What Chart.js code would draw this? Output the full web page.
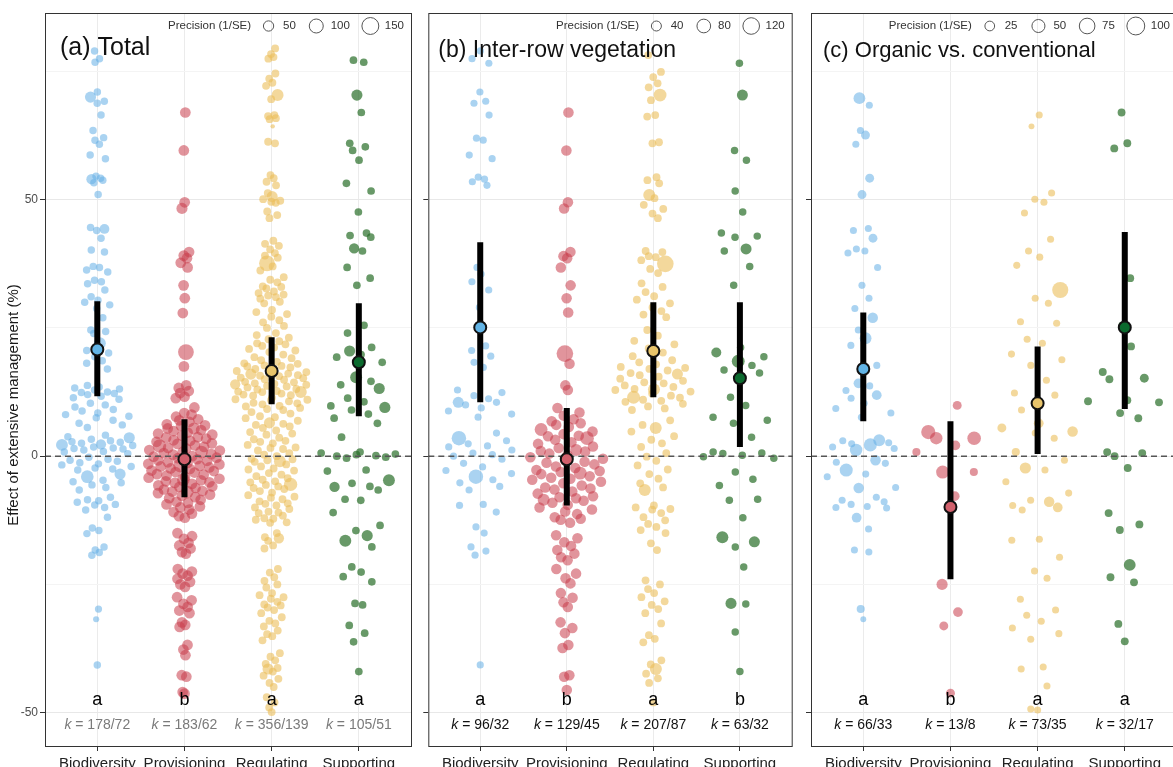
<!DOCTYPE html>
<html>
<head>
<meta charset="utf-8">
<script src="https://cdn.jsdelivr.net/npm/chart.js@4.4.0/dist/chart.umd.min.js"></script>
<style>
  html, body { margin: 0; padding: 0; background: #fff; width: 1173px; height: 767px; overflow: hidden; }
  .panel { position: absolute; top: 0; }
</style>
</head>
<body>
<canvas id="ca" class="panel" style="left:0" width="420" height="767"></canvas>
<canvas id="cb" class="panel" style="left:420px" width="381" height="767"></canvas>
<canvas id="cc" class="panel" style="left:800px" width="386" height="767"></canvas>
<script>
// --- data ----------------------------------------------------------
const CATEGORIES = ['Biodiversity', 'Provisioning', 'Regulating', 'Supporting'];
const Y_TICKS = [-50, -25, 0, 25, 50, 75];
const YMIN = -56.7, YMAX = 86.4, XMIN = -0.6, XMAX = 3.61;

// effect sizes (%); plain number = default precision of the group, [y, precision] otherwise
const A_BIO = [79, 77.5, 76.8, 71, [70,60], 69.2, 68.8, 66.5, 63.5, 62.1, 61.6, 60.8, 58.7, 58, 54.6, 54.2, [54,50], 53.8, 53.3, 51, 44.6, [44.3,45], 44, 42.5, 40.2, 39.8, 37, 36.8, 36.3, 35.9, 34.3, 34, 33.6, 32.4, 31.1, 30.4, 30, 29.5, 28.8, 27, 24.6, 24.3, 23.9, [22,70], 20.6, 20.1, 19.4, 18.6, 18.1, 17, 13.8, 13.5, 13.1, 12.9, 12.5, 12.2, 12, 11.7, 11.4, 11.1, 12.4, 13.3, 10.3, 10, 9.6, 9.1, 8.8, 8.4, 8.1, 7.8, 7.5, 7, 6.4, 6.1, 5.6, 4.1, [3.6,60], 3.3, 3, 2.8, 2.5, [2.3,50], 2.1, 1.8, 1.6, 1.4, 1.2, 0.9, 0.8, 0.5, 3.8, 2.7, [2.2,70], 1.5, -0.2, -0.6, -1, -1.3, -1.7, -2, -2.3, -2.7, [-3.5,60], -0.8, -1.5, -2.5, [-4,80], -4.7, -5.2, -5.6, -6.1, -6.6, -5, -8, -8.5, -9, -9.5, -10, -8.7, -9.4, -10.5, -11.9, -14, -14.5, -15.1, -17.7, -18.3, -18.8, -19.3, [-29.8,20], [-31.8,12], -40.7];
const A_PROV = [67, 59.6, 49.5, [48.3,60], 39.8, 39.1, 38.6, 37.7, 36.8, 33.3, 30.8, 27.9, [20.3,130], 17.5, 13.8, 13.3, 12.7, 12.3, 11.6, 11.3, 9.5, 8.4, 8.1, 7.7, 7.2, 7, 6.7, 6.2, 6, 5.9, 5.4, [5.4,70], 5.1, 4.9, 4.6, 4.4, 4.2, 4, 3.7, 3.6, 3.4, 3.1, 3, 2.8, 2.5, 2.4, [2,90], 2.1, 1.8, 1.6, 1.5, 1.2, 1.1, [0.8,80], 0.8, 0.6, 0.4, 0.3, 0, -0.1, -0.3, -0.4, -0.6, -0.8, -0.9, -1.2, -1.3, -1.5, -1.6, [-1.8,100], -1.9, -2, -2.2, -2.4, -2.5, -2.8, -2.9, -3.1, -3.2, -3.5, -3.6, -3.8, -4, -4.2, -4.4, [-4.6,80], -4.7, -4.9, -5.1, -5.2, -5.4, -5.7, -5.9, -6, -6.2, -6.5, -6.8, -6.9, [-7,80], -7.2, -7.5, -7.7, -8, -8.2, -8.5, -8.9, -9.1, -9.4, -9.8, -10, -10.4, -10.9, -11.2, -11.7, -12, -15, -15.6, -16.1, -16.9, -17.4, -18, -18.7, -19, -22, -22.5, -22.9, -23.3, -23.9, -24.5, -25, -25.5, -27.5, -28.1, -28.8, -29.4, -30.1, -30.6, -32.4, -32.9, -33.3, -36.8, -37.7, -38.8, -42.7, -43, -46, -46.3];
const A_REG = [79.5, 78.4, 77.8, 77.5, 74.6, 73.6, 72.8, 72.2, [70.4,70], 69.6, 66.5, 66.3, 65.9, 65.7, [64.3,2], 61, 61.3, 54.8, 54.2, 53.5, 52.8, 51.3, [50.6,60], 50.1, 49.8, 49.4, 49.6, 47.7, 47, 46.4, 42, 41.4, 41, 40.3, 39.6, 39.1, 38.7, [37.6,130], 37, 36.2, 34.9, 34.4, 33.9, 33.1, 32.7, 32.1, 31.8, 31.3, 31, 30.7, 30.1, 29.8, 33, 31.5, 28.5, 27.7, 27.2, 26.5, 26.1, 25.4, 25, 28.1, 24, 23.6, 23.1, 22.8, 22.4, 21.8, 21.5, 21.2, 20.6, 20.3, 19.8, 19.3, 19.1, 18.7, 22, 20.9, 18.4, 18.1, 17.7, 17.5, 17.3, 17, 16.6, 16.4, 16.1, 15.8, 15.7, 15.3, 15, 14.9, 14.5, 14.1, 13.9, 13.6, 13.4, 13.1, 12.7, 12.5, 12.2, 12, 11.8, 11.4, 11.1, 10.9, 10.7, 10.3, 10.1, 9.8, 9.4, 9.2, 9, [16,60], [14,50], [12.5,70], 17.6, 15.6, 13.7, 11.9, 10.4, 18, 16.9, 15.2, 14.2, 13, 11, 9.7, 12.6, 14.4, 16.3, 8.6, 8.3, 7.8, 7.4, 6.9, 6.3, 6.1, 5.5, 5, 4.7, 4.2, 3.6, 3.3, 2.8, 2.5, [6.5,60], 7.6, 5.8, 4.4, 3, 2.2, 1.7, 1.4, 1.1, 0.6, 0.3, 0, -0.5, -0.8, -1.1, -1.6, -2, -2.4, -2.8, -3.3, -3.6, [-1,70], 1.6, -0.6, -2.6, -3.9, -4.3, -4.6, -5.1, -5.6, [-5.5,90], -5.9, -6.4, -6.8, -7.1, -7.6, -8.1, -8.4, -8.8, -9.3, -9.6, -10, -10.3, -4.9, -6.2, -7.9, -9.2, -10.8, -11.1, -11.6, -12.1, -12.4, -12.9, -13, -11, -12.2, -15, -15.8, -16.5, -17.4, -18, [-16,50], -22, -22.7, -23.6, -24.3, -25, -25.6, -26.7, -27.1, -27.8, -28.4, -28.9, -29.5, -30, -30.6, -27.5, -29.1, -31.4, -32.1, -32.6, -33.2, -34, -34.7, -35.1, -35.9, -38.4, -39.1, -39.8, -40.5, -41.3, -42, -42.8, -43.4, -44.2, -45, [-41.5,60], -47, -48, -49, -49.9];
const A_SUP = [77.2, 76.8, [70.4,60], 67, 61, 60.3, 59.6, 57.7, 53.2, 51.7, 47.6, 43.5, 43, 42.7, [40.5,50], 40, 36.8, 34.7, 33.3, 25.5, 24, 21.2, [20.5,60], 19.8, 19.3, 18.3, [15.4,70], 14.6, 13.9, [13.2,60], 11.3, 10.6, 9.8, 9, 8.2, 7.4, 6.4, [9.5,60], 3.7, 0.8, 0.6, 0.3, 0, -0.2, -0.4, 0.4, 0.1, -2.7, -2.9, [-4.7,70], -5.3, -5.9, -6.6, [-6,50], -8.6, -8.4, -11, -13.5, -14.5, [-15.5,60], [-16.5,70], -17.7, -21.6, -22.6, -23.5, -24.5, -28.7, -29, -33, -34.5, -36.2, -42];
const A_PREC = [22, 55, 25, 24];
const A_MEAN = [20.8, -0.6, 16.6, 18.3];
const A_LO = [11.7, -8, 10.1, 7.8];
const A_HI = [30.2, 7.2, 23.2, 29.8];
const A_LETTERS = ['a', 'b', 'a', 'a'];
const A_K = ['178/72', '183/62', '356/139', '105/51'];
const A_LEGEND = [50, 100, 150];

const B_BIO = [79, 77.5, 76.6, 71, 69.2, 68.8, 66.5, 62, 61.6, 58.7, 58, 54.4, 54, 53.5, 52.8, 36.8, 35.5, 34, 32.4, 29, 21.5, 20.6, 19.5, 18.3, 17.3, 12.9, 12.4, 11.8, 11.2, 10.5, 10, 9.4, 8.8, 8.2, 7.6, [10.5,50], 4.5, [3.5,90], 3, 2.4, 1.8, 1.2, 0.6, 0, -0.6, -1.4, 2, 0.3, -2.1, -2.8, -3.4, [-4,90], -4.6, -5.2, -5.9, -6.6, -9.6, -9.4, -10.9, -13.8, -15, -17.7, -18.5, -19.3, -40.7];
const B_PROV = [67, 59.6, 49.5, 48.3, 39.8, 39, 38.6, 36.8, 33.3, 30.8, 28, [20,120], 18, 13.8, 12.9, 9.4, 8.5, 7.9, 7.2, 6.8, 6.1, 5.7, [5.2,70], 4.8, 4.3, 3.9, [3.5,80], 3.2, 2.7, 2.4, 1.9, 1.6, [1.2,60], 0.9, 0.5, 0.2, -0.2, -0.5, -0.9, -1.3, -1.6, -2, -2.3, -2.7, -3.1, [-3.3,70], -3.5, -3.9, -4.2, -4.6, -5, -5.3, -5.7, -6.1, -6.5, -6.9, -7.3, -7.8, -8.2, -8.7, -9.1, -9.5, -10, -10.4, 6.4, 4, 1, -1.1, -2.9, -4.4, -6.3, -8, [-8.5,60], -10.8, -11.3, -11.9, -12.4, -13, -12.2, -15.4, -16, -16.8, -17.5, -18.3, -19, -19.7, -20.3, -22, -22.9, -23.8, -24.8, -26.7, -27.6, -28.5, -29.4, -32.4, -33.5, -34.5, -36.8, -37.4, -42.7, -43, -45.6];
const B_REG = [78.2, 74.9, 73.9, 72.7, 71.9, [70.4,70], 69.4, 66.5, 66.2, 61, 61.2, 54.4, 53.8, 53.2, [50.9,60], 50.3, 49, 48.2, 47.3, 46.4, 39.8, 39, 38.2, 40, 38.8, [37.5,120], 36.5, 35.7, 33.7, 33, 32, 31.2, 30.5, 29.8, 29, 28.3, 27.6, 27.1, 24.6, 23.5, 22.5, 21.8, 21, 20.2, 19.5, 18.7, 18.3, 17.9, 17.4, 17, 16.7, 16.2, 15.8, 15.5, 15.1, 14.7, 14.2, 13.8, 13.5, 13.1, 12.6, 12.2, 11.8, 11.4, 11, 10.6, 10.2, 9.7, 9.3, 9, [16,50], [13,60], [11.5,70], 17.2, 14.4, 12.9, 10.8, 7, 6.1, [5.5,60], 4.8, 3.9, 3.2, 2.5, 1.8, 0.6, -0.1, -0.9, -1.8, -2.6, -3.5, -4.4, -5.3, -6.1, [-6.6,60], -10, -10.3, -9.6, -10.4, -11.1, -11.9, -12.5, -13.2, -13.8, -14.4, -15, -17, -18.3, -24.2, -25, -25.9, -26.7, -27.5, -28.3, -29, -29.8, -30.6, -32.6, -34.9, -35.6, -36.3, -39.8, -40.6, [-41.5,60], -42.4, -43.3, -44.2, -48];
const B_SUP = [76.6, [70.4,50], 59.6, 57.7, 51.7, 47.6, 43.5, 42.9, 42.7, [40.4,50], 40, 37, 33.3, 21.2, [20.2,40], 19.4, [18.5,70], 17.7, 16.8, 16.2, 11.5, 9.9, 7.6, 7, 6.4, 3.7, 0.8, 0.5, 0.2, -0.1, -0.4, 0.6, -3.1, -4.5, -5.7, -8.4, -8.6, -12, [-15.8,60], [-16.7,50], -17.7, -21.6, [-28.7,50], -28.8, -34.3, -42];
const B_PREC = [18, 45, 22, 20];
const B_MEAN = [25.1, -0.6, 20.5, 15.2];
const B_LO = [10.5, -9.6, 11.5, 1.8];
const B_HI = [41.7, 9.4, 30, 30];
const B_LETTERS = ['a', 'b', 'a', 'b'];
const B_K = ['96/32', '129/45', '207/87', '63/32'];
const B_LEGEND = [40, 80, 120];

const C_BIO = [[69.8,40], 68.4, 63.5, [62.6,20], 60.8, [54.2,20], [51,20], 44.4, 44, [42.5,20], 40, 39.6, 40.4, 36.8, 33.3, 30.8, 28.8, [27,30], 24.6, [23,40], 21.6, 17.7, [14.2,25], 13.7, 12.8, [11.9,25], 11.3, 10.3, 9.3, 8.4, 7.6, [3.1,40], [2.2,50], 1.8, [1.2,45], 2.6, 3, 2.4, 1.5, [-0.8,30], -1.2, -1.4, [-2.7,50], -3.5, -4, [-6.2,30], -6.1, -8, -8.6, -9.4, -9.8, -10, -8.9, -10.1, [-12,25], -14.2, -18.3, -18.7, [-29.8,15], [-31.8,5]];
const C_PROV = [[9.9,20], [4.7,60], [3.5,45], [3.5,55], [2.1,25], [0.8,15], [-3.1,50], [-3.1,15], [-7.8,25], [-25,35], [-30.4,25], [-33.1,20], [-46.2,20]];
const C_REG = [66.5, [64.3,5], 51.3, 49.5, 50.1, 47.4, 42.3, 40, 38.8, 37.2, [32.4,80], 30.8, 29.8, 25.9, 26.2, 22.8, 22, 19.9, 18.8, 17.7, 14.8, 12.3, 11.9, 9, [6.4,25], [5.5,20], 4.5, [4.8,30], 3.5, [0.8,15], -0.8, [-2.3,35], -2.7, -5, -7.2, -8.6, [-8.9,30], -9.6, [-10,25], -10.5, -16.4, -16.2, -19.7, -22.4, -23.8, -27.9, -30, -31, -32.2, -33.5, -34.6, -35.7, -41.1, -41.5, -44.8, -49.3, -49.5];
const C_SUP = [67, 61, 60, 34.7, 25.5, 21.4, 16.4, [15.2,20], 15, [10.9,15], 10.7, 10.5, 8.4, 7.4, 0.8, 0.6, 0, -2.3, -11.1, -13.3, -14.4, [-21.2,40], -23.6, -24.6, -32.7, -36.1];
const C_PREC = [10, 15, 10, 14];
const C_MEAN = [17, -9.9, 10.3, 25.1];
const C_LO = [6.8, -24, 0.4, 9.2];
const C_HI = [28, 6.8, 21.4, 43.7];
const C_LETTERS = ['a', 'b', 'a', 'a'];
const C_K = ['66/33', '13/8', '73/35', '32/17'];
const C_LEGEND = [25, 50, 75, 100];

// --- style ---------------------------------------------------------
const FONT = "'Liberation Sans', Arial, Helvetica, sans-serif";
const PT_COLORS = ['rgba(100,175,230,0.55)', 'rgba(200,60,75,0.55)', 'rgba(235,190,90,0.6)', 'rgba(40,110,40,0.7)'];
const MEAN_COLORS = ['#62b4e6', '#d1606c', '#e8c46b', '#0b6a2e'];

Chart.defaults.font.family = FONT;

// quasirandom horizontal offsets (van der Corput by y-rank, scaled by density)
function vdc(i) {
  let v = 0, d = 0.5;
  while (i > 0) { if (i & 1) v += d; i >>= 1; d /= 2; }
  return v;
}

function quasirandom(ys, width) {
  const n = ys.length;
  if (n < 2) return ys.map(() => 0);
  const mean = ys.reduce((a, b) => a + b, 0) / n;
  const sd = Math.sqrt(ys.reduce((a, b) => a + (b - mean) ** 2, 0) / (n - 1));
  const s = [...ys].sort((a, b) => a - b);
  const q = p => { const h = (n - 1) * p, l = Math.floor(h); return s[l] + (h - l) * (s[Math.min(l + 1, n - 1)] - s[l]); };
  let lo = Math.min(sd, (q(0.75) - q(0.25)) / 1.34);
  if (!(lo > 0)) lo = sd || 1;
  const bw = 0.5 * 0.9 * lo * Math.pow(n, -0.2);
  const dens = ys.map(y => ys.reduce((a, v) => a + Math.exp(-0.5 * ((y - v) / bw) ** 2), 0));
  const mx = Math.max(...dens);
  const order = ys.map((y, i) => i).sort((a, b) => ys[a] - ys[b]);
  const out = new Array(n);
  order.forEach((idx, rank) => { out[idx] = (vdc(rank + 1) - 0.5) * 2 * width * dens[idx] / mx; });
  return out;
}

const PANELS = [
  { id: 'ca', title: '(a) Total', series: [A_BIO, A_PROV, A_REG, A_SUP], prec: A_PREC, mean: A_MEAN, lo: A_LO, hi: A_HI,
    letters: A_LETTERS, k: A_K, legend: A_LEGEND, size: [4, 0.45], axisW: 45, yLabels: true, kColor: '#7a7a7a',
    titleDx: 15, titleDy: 35, titleSize: 25 },
  { id: 'cb', title: '(b) Inter-row vegetation', series: [B_BIO, B_PROV, B_REG, B_SUP], prec: B_PREC, mean: B_MEAN, lo: B_LO, hi: B_HI,
    letters: B_LETTERS, k: B_K, legend: B_LEGEND, size: [3, 0.55], axisW: 8, yLabels: false, kColor: '#111',
    titleDx: 10, titleDy: 38, titleSize: 23 },
  { id: 'cc', title: '(c) Organic vs. conventional', series: [C_BIO, C_PROV, C_REG, C_SUP], prec: C_PREC, mean: C_MEAN, lo: C_LO, hi: C_HI,
    letters: C_LETTERS, k: C_K, legend: C_LEGEND, size: [5, 0.75], axisW: 11, yLabels: false, kColor: '#111',
    titleDx: 12, titleDy: 38, titleSize: 22 },
];

function makePanel(p) {
  const radius = prec => Math.sqrt(p.size[0] + p.size[1] * prec);

  const pointSets = p.series.map((arr, i) => {
    const ys = arr.map(d => Array.isArray(d) ? d[0] : d);
    const ps = arr.map(d => Array.isArray(d) ? d[1] : p.prec[i]);
    const off = quasirandom(ys, 0.45);
    return {
      type: 'bubble',
      data: ys.map((y, j) => ({ x: i + off[j], y: y, r: radius(ps[j]) })),
      backgroundColor: PT_COLORS[i],
      borderWidth: 0,
      order: 4,
    };
  });

  const errData = [];
  p.mean.forEach((m, i) => {
    errData.push({ x: i, y: p.lo[i] }, { x: i, y: p.hi[i] }, { x: i, y: null });
  });

  const textPlugin = {
    id: 'panelText',
    afterDraw(chart) {
      const c = chart.ctx, a = chart.chartArea, xs = chart.scales.x, ys = chart.scales.y;
      c.save();
      // panel box
      c.strokeStyle = '#333';
      c.lineWidth = 1;
      c.strokeRect(a.left + 0.5, a.top + 0.5, a.right - a.left - 1, a.bottom - a.top - 1);

      // title
      c.fillStyle = '#111';
      c.font = `${p.titleSize}px ${FONT}`;
      c.textBaseline = 'middle';
      c.textAlign = 'left';
      c.fillText(p.title, a.left + p.titleDx, a.top + p.titleDy);

      // size legend
      c.font = `11.5px ${FONT}`;
      const rMax = radius(p.legend[p.legend.length - 1]);
      const kw = 2 * rMax + 2;
      const head = 'Precision (1/SE)';
      let total = c.measureText(head).width + 8;
      p.legend.forEach((v, i) => {
        total += kw + 5 + c.measureText(String(v)).width + (i < p.legend.length - 1 ? 11 : 0);
      });
      let x = a.right - 8 - total;
      const ly = a.top + 13;
      c.fillStyle = '#333';
      c.fillText(head, x, ly);
      x += c.measureText(head).width + 8;
      p.legend.forEach(v => {
        c.beginPath();
        c.arc(x + kw / 2, ly, radius(v), 0, Math.PI * 2);
        c.strokeStyle = '#555';
        c.lineWidth = 1;
        c.stroke();
        x += kw + 5;
        c.fillText(String(v), x, ly);
        x += c.measureText(String(v)).width + 11;
      });

      // group letters and k
      p.letters.forEach((l, i) => {
        const cx = xs.getPixelForValue(i);
        c.textAlign = 'center';
        c.fillStyle = '#000';
        c.font = `18px ${FONT}`;
        c.fillText(l, cx, ys.getPixelForValue(-47.6));

        c.font = `italic 14px ${FONT}`;
        const wk = c.measureText('k').width;
        c.font = `14px ${FONT}`;
        const rest = ' = ' + p.k[i];
        const wr = c.measureText(rest).width;
        const x0 = cx - (wk + wr) / 2;
        const yk = ys.getPixelForValue(-52.5);
        c.textAlign = 'left';
        c.fillStyle = p.kColor;
        c.font = `italic 14px ${FONT}`;
        c.fillText('k', x0, yk);
        c.font = `14px ${FONT}`;
        c.fillText(rest, x0 + wk, yk);
      });

      // y axis title (first panel only)
      if (p.yLabels) {
        c.translate(14, 405);
        c.rotate(-Math.PI / 2);
        c.textAlign = 'center';
        c.fillStyle = '#1a1a1a';
        c.font = `15px ${FONT}`;
        c.fillText('Effect of extensive management (%)', 0, 0);
      }
      c.restore();
    }
  };

  return new Chart(document.getElementById(p.id), {
    type: 'scatter',
    data: {
      datasets: [
        ...pointSets,
        {
          type: 'line',
          data: [{ x: XMIN, y: 0 }, { x: XMAX, y: 0 }],
          borderColor: '#555',
          borderWidth: 1.5,
          borderDash: [6, 4],
          pointRadius: 0,
          order: 3,
        },
        {
          type: 'line',
          data: errData,
          borderColor: '#000',
          borderWidth: 6,
          borderCapStyle: 'butt',
          spanGaps: false,
          pointRadius: 0,
          order: 2,
        },
        {
          type: 'scatter',
          data: p.mean.map((m, i) => ({ x: i, y: m })),
          backgroundColor: MEAN_COLORS,
          borderColor: '#111',
          borderWidth: 2,
          pointRadius: 6,
          order: 1,
        }
      ]
    },
    options: {
      responsive: false,
      animation: false,
      events: [],
      layout: { padding: { top: 13, right: 2, left: 0, bottom: 0 } },
      plugins: { legend: { display: false }, tooltip: { enabled: false } },
      scales: {
        x: {
          type: 'linear',
          min: XMIN,
          max: XMAX,
          afterBuildTicks: s => { s.ticks = CATEGORIES.map((c, i) => ({ value: i })); },
          afterFit: s => { s.height = 20; },
          ticks: { callback: (v, i) => CATEGORIES[i], font: { size: 15 }, color: '#222', padding: 4, maxRotation: 0, autoSkip: false },
          grid: { color: '#ebebeb', tickColor: '#333', tickLength: 4 },
          border: { display: false },
        },
        y: {
          type: 'linear',
          min: YMIN,
          max: YMAX,
          afterBuildTicks: s => { s.ticks = Y_TICKS.map(v => ({ value: v })); },
          afterFit: s => { s.width = p.axisW; },
          ticks: { callback: v => (p.yLabels && v % 50 === 0) ? String(v) : '', font: { size: 12 }, color: '#4d4d4d', padding: 2 },
          grid: {
            color: c => (c.tick && c.tick.value % 50 === 0) ? '#e8e8e8' : '#f4f4f4',
            tickColor: c => (c.tick && c.tick.value % 50 === 0) ? '#333' : 'rgba(0,0,0,0)',
            tickLength: 5,
          },
          border: { display: false },
        }
      }
    },
    plugins: [textPlugin]
  });
}

PANELS.forEach(makePanel);
</script>
</body>
</html>
